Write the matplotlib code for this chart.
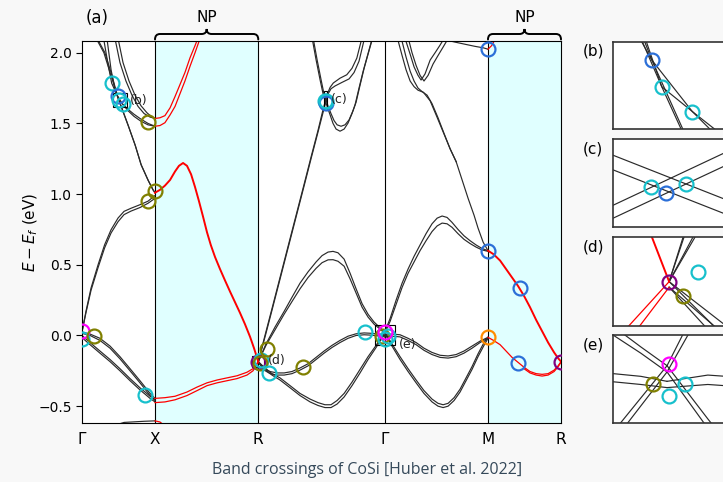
import matplotlib
matplotlib.use("Agg")
import matplotlib.pyplot as plt
from matplotlib.path import Path
from matplotlib.patches import PathPatch, Rectangle

plt.rcParams['font.family'] = ['DejaVu Sans']
plt.rcParams['mathtext.fontset'] = 'dejavusans'

# ---------------- data ----------------
hs_k = [0.0, 0.5, 1.2071, 2.0731, 2.7802, 3.2802]
hs_labels = ["Γ", "X", "R", "Γ", "M", "R"]
np_spans = [(0.5, 1.2071), (2.7802, 3.2802)]
e_ticks = [-0.5, 0.0, 0.5, 1.0, 1.5, 2.0]
e_range = (-0.617, 2.083)

# Γ–X bands (black)
bands_GX = [
    ([0.0, 0.055, 0.123, 0.192, 0.260, 0.329, 0.397, 0.432, 0.466, 0.5],
     [0.025, 0.01, -0.02, -0.075, -0.15, -0.235, -0.32, -0.365, -0.41, -0.445]),
    ([0.0, 0.055, 0.123, 0.192, 0.260, 0.329, 0.397, 0.432, 0.466, 0.5],
     [0.015, 0.0, -0.035, -0.09, -0.165, -0.25, -0.335, -0.38, -0.425, -0.46]),
    ([0.0, 0.055, 0.123, 0.192, 0.260, 0.329, 0.397, 0.432, 0.466, 0.5],
     [0.0, -0.05, -0.11, -0.17, -0.235, -0.305, -0.37, -0.40, -0.43, -0.455]),
    ([0.0, 0.055, 0.123, 0.192, 0.260, 0.329, 0.397, 0.432, 0.466, 0.5],
     [-0.015, -0.065, -0.125, -0.185, -0.25, -0.32, -0.385, -0.415, -0.445, -0.47]),
    ([0.0, 0.027, 0.062, 0.110, 0.155, 0.199, 0.247, 0.288, 0.336, 0.397, 0.452, 0.5],
     [0.025, 0.17, 0.336, 0.50, 0.642, 0.748, 0.831, 0.878, 0.90, 0.925, 0.95, 0.99]),
    ([0.0, 0.027, 0.062, 0.110, 0.155, 0.199, 0.247, 0.288, 0.336, 0.397, 0.452, 0.5],
     [0.025, 0.16, 0.32, 0.48, 0.62, 0.725, 0.805, 0.855, 0.88, 0.905, 0.935, 0.97]),
    ([0.082, 0.150, 0.192, 0.2433, 0.315, 0.363, 0.404, 0.452, 0.486, 0.5],
     [2.13, 2.00, 1.86, 1.693, 1.49, 1.35, 1.21, 1.10, 1.03, 1.01]),
    ([0.089, 0.157, 0.199, 0.2518, 0.318, 0.366, 0.406, 0.454, 0.487, 0.5],
     [2.13, 2.00, 1.86, 1.664, 1.48, 1.34, 1.205, 1.095, 1.03, 1.01]),
    ([0.148, 0.178, 0.2034, 0.2433, 0.278, 0.315, 0.356, 0.404, 0.452, 0.5],
     [2.10, 1.92, 1.784, 1.693, 1.637, 1.59, 1.55, 1.515, 1.49, 1.48]),
    ([0.171, 0.199, 0.226, 0.2518, 0.278, 0.315, 0.356, 0.404, 0.452, 0.5],
     [2.10, 1.88, 1.74, 1.664, 1.637, 1.60, 1.565, 1.53, 1.50, 1.48]),
    ([0.226, 0.260, 0.301, 0.342, 0.384, 0.425, 0.466, 0.5],
     [2.10, 1.93, 1.80, 1.70, 1.62, 1.57, 1.545, 1.535]),
    ([0.247, 0.281, 0.322, 0.363, 0.404, 0.445, 0.479, 0.5],
     [2.10, 1.93, 1.80, 1.70, 1.625, 1.575, 1.545, 1.535]),
    ([0.178, 0.288, 0.425, 0.5],
     [-0.65, -0.615, -0.607, -0.604]),
]

# R–Γ bands (black)
k_hump = [1.2071, 1.260, 1.322, 1.384, 1.438, 1.493, 1.548, 1.603, 1.644, 1.685,
          1.719, 1.753, 1.795, 1.836, 1.877, 1.918, 1.959, 2.000, 2.041, 2.0731]
k_flat = [1.2071, 1.247, 1.288, 1.336, 1.384, 1.438, 1.493, 1.548, 1.603, 1.658,
          1.712, 1.767, 1.822, 1.877, 1.932, 1.986, 2.041, 2.0731]
k_vee = [1.2071, 1.253, 1.301, 1.356, 1.425, 1.493, 1.562, 1.616, 1.664, 1.705,
         1.747, 1.795, 1.849, 1.904, 1.959, 2.014, 2.0731]
bands_RG = [
    ([1.2071, 1.253, 1.301, 1.356, 1.411, 1.466, 1.521, 1.568, 1.616, 1.652, 1.6667,
      1.681, 1.699, 1.721, 1.767, 1.813, 1.849, 1.882, 1.916],
     [-0.185, 0.0, 0.19, 0.41, 0.63, 0.85, 1.07, 1.26, 1.45, 1.6036, 1.658,
      1.711, 1.755, 1.786, 1.82, 1.844, 1.89, 1.962, 2.10]),
    ([1.2071, 1.256, 1.304, 1.359, 1.414, 1.469, 1.524, 1.571, 1.619, 1.657, 1.6689,
      1.6727, 1.686, 1.705, 1.733, 1.780, 1.829, 1.863, 1.897, 1.934],
     [-0.185, 0.0, 0.19, 0.41, 0.63, 0.85, 1.07, 1.26, 1.45, 1.603, 1.647,
      1.661, 1.71, 1.745, 1.765, 1.79, 1.815, 1.86, 1.94, 2.10]),
    ([1.566, 1.580, 1.603, 1.630, 1.652, 1.6667, 1.681, 1.699, 1.719, 1.740, 1.767,
      1.795, 1.822, 1.849, 1.870, 1.897, 1.925, 1.955, 1.987],
     [2.13, 2.08, 1.95, 1.81, 1.7036, 1.658, 1.6137, 1.56, 1.50, 1.46, 1.445,
      1.46, 1.503, 1.57, 1.632, 1.75, 1.868, 1.98, 2.10]),
    ([1.573, 1.587, 1.610, 1.637, 1.657, 1.6727, 1.686, 1.705, 1.726, 1.747, 1.774,
      1.801, 1.829, 1.856, 1.877, 1.904, 1.932, 1.959, 1.989],
     [2.13, 2.08, 1.95, 1.81, 1.7097, 1.661, 1.6198, 1.57, 1.52, 1.49, 1.48,
      1.49, 1.525, 1.59, 1.65, 1.77, 1.89, 1.99, 2.10]),
    (k_hump, [-0.185, -0.06, 0.06, 0.17, 0.27, 0.37, 0.45, 0.52, 0.565, 0.59,
              0.595, 0.585, 0.54, 0.44, 0.33, 0.225, 0.15, 0.095, 0.055, 0.025]),
    (k_hump, [-0.185, -0.07, 0.04, 0.15, 0.24, 0.33, 0.41, 0.475, 0.515, 0.535,
              0.536, 0.525, 0.49, 0.40, 0.30, 0.20, 0.13, 0.08, 0.045, 0.015]),
    (k_flat, [-0.185, -0.235, -0.255, -0.265, -0.265, -0.255, -0.23, -0.20, -0.155,
              -0.11, -0.07, -0.035, -0.005, 0.012, 0.018, 0.015, 0.008, 0.0]),
    (k_flat, [-0.19, -0.245, -0.27, -0.28, -0.28, -0.27, -0.245, -0.215, -0.17,
              -0.125, -0.085, -0.05, -0.02, 0.0, 0.005, 0.002, -0.005, -0.01]),
    (k_vee, [-0.185, -0.23, -0.27, -0.30, -0.355, -0.41, -0.45, -0.475, -0.49,
             -0.49, -0.46, -0.41, -0.33, -0.24, -0.15, -0.07, 0.025]),
    (k_vee, [-0.19, -0.24, -0.28, -0.315, -0.37, -0.425, -0.47, -0.495, -0.51,
             -0.51, -0.485, -0.435, -0.355, -0.265, -0.17, -0.085, 0.015]),
]

# Γ–M bands (black)
k_gv = [2.0731, 2.123, 2.178, 2.233, 2.288, 2.342, 2.397, 2.438, 2.473, 2.507,
        2.548, 2.589, 2.630, 2.671, 2.712, 2.753, 2.7802]
k_gd = [2.0731, 2.123, 2.178, 2.233, 2.288, 2.342, 2.397, 2.452, 2.507, 2.562,
        2.616, 2.671, 2.726, 2.7802]
k_gh = [2.0731, 2.110, 2.151, 2.192, 2.233, 2.274, 2.315, 2.356, 2.397, 2.432,
        2.466, 2.500, 2.534, 2.575, 2.616, 2.658, 2.699, 2.740, 2.7802]
bands_GM = [
    (k_gv, [0.025, -0.06, -0.15, -0.235, -0.315, -0.39, -0.45, -0.48, -0.49, -0.48,
            -0.44, -0.38, -0.30, -0.22, -0.13, -0.05, -0.013]),
    (k_gv, [0.015, -0.075, -0.17, -0.255, -0.335, -0.41, -0.47, -0.50, -0.51, -0.50,
            -0.46, -0.40, -0.32, -0.24, -0.15, -0.07, -0.02]),
    (k_gd, [0.0, 0.01, 0.005, -0.02, -0.05, -0.09, -0.12, -0.14, -0.145, -0.135,
            -0.11, -0.075, -0.04, -0.013]),
    (k_gd, [-0.01, -0.005, -0.01, -0.035, -0.065, -0.105, -0.135, -0.155, -0.16,
            -0.15, -0.125, -0.09, -0.05, -0.018]),
    (k_gh, [0.025, 0.12, 0.25, 0.37, 0.47, 0.56, 0.64, 0.72, 0.79, 0.83, 0.845,
            0.835, 0.80, 0.75, 0.705, 0.67, 0.64, 0.615, 0.60]),
    (k_gh, [0.015, 0.10, 0.22, 0.34, 0.44, 0.52, 0.60, 0.67, 0.735, 0.775, 0.795,
            0.79, 0.765, 0.72, 0.68, 0.65, 0.625, 0.605, 0.595]),
    ([2.152, 2.166, 2.192, 2.219, 2.247, 2.274, 2.301, 2.338, 2.384, 2.429, 2.473,
      2.521, 2.562, 2.603, 2.644, 2.685, 2.712, 2.747, 2.7802],
     [2.13, 2.08, 1.98, 1.88, 1.80, 1.76, 1.735, 1.72, 1.66, 1.55, 1.44,
      1.32, 1.23, 1.10, 0.97, 0.85, 0.76, 0.66, 0.60]),
    ([2.178, 2.192, 2.219, 2.247, 2.274, 2.301, 2.329, 2.363, 2.397, 2.438, 2.479,
      2.521, 2.562],
     [2.13, 2.08, 1.97, 1.87, 1.80, 1.75, 1.725, 1.70, 1.64, 1.54, 1.43, 1.32, 1.23]),
    ([2.212, 2.219, 2.247, 2.274, 2.301, 2.322, 2.349, 2.384, 2.418, 2.452, 2.479],
     [2.11, 2.08, 1.99, 1.90, 1.84, 1.807, 1.85, 1.948, 2.00, 2.054, 2.10]),
    ([2.233, 2.240, 2.260, 2.288, 2.315, 2.342, 2.370, 2.404, 2.438, 2.473, 2.507],
     [2.11, 2.08, 2.00, 1.91, 1.84, 1.80, 1.84, 1.92, 1.98, 2.04, 2.10]),
    ([2.493, 2.555, 2.623, 2.692, 2.747, 2.7802],
     [2.09, 2.075, 2.06, 2.045, 2.035, 2.025]),
]

# nodal-plane (red) bands, X–R and M–R
red_thin = [
    ([0.5, 0.534, 0.568, 0.603, 0.637, 0.671, 0.705, 0.740, 0.774, 0.808],
     [1.535, 1.54, 1.555, 1.61, 1.69, 1.775, 1.86, 1.965, 2.05, 2.14]),
    ([0.5, 0.534, 0.568, 0.603, 0.637, 0.671, 0.705, 0.740, 0.774, 0.808],
     [1.48, 1.485, 1.505, 1.56, 1.62, 1.71, 1.80, 1.905, 2.0, 2.10]),
    ([0.5, 0.568, 0.637, 0.719, 0.788, 0.856, 0.925, 0.993, 1.062, 1.130, 1.171, 1.2071],
     [-0.445, -0.44, -0.43, -0.40, -0.365, -0.335, -0.315, -0.30, -0.285, -0.26, -0.235, -0.185]),
    ([0.5, 0.568, 0.637, 0.719, 0.788, 0.856, 0.925, 0.993, 1.062, 1.130, 1.171, 1.2071],
     [-0.475, -0.47, -0.455, -0.425, -0.39, -0.355, -0.335, -0.32, -0.305, -0.28, -0.25, -0.19]),
    ([0.5, 0.534, 0.568], [-0.604, -0.612, -0.64]),
    ([2.7802, 2.818, 2.863, 2.904, 2.945, 2.986, 3.027, 3.068, 3.110, 3.151, 3.192,
      3.233, 3.260, 3.2802],
     [-0.013, -0.035, -0.065, -0.11, -0.155, -0.19, -0.225, -0.255, -0.27, -0.275,
      -0.27, -0.245, -0.215, -0.185]),
    ([3.027, 3.068, 3.110, 3.151, 3.192, 3.233, 3.260, 3.2802],
     [-0.235, -0.265, -0.28, -0.287, -0.28, -0.255, -0.222, -0.19]),
    ([2.7802, 2.805, 2.832], [2.025, 2.05, 2.10]),
]
red_thick = [
    ([0.5, 0.534, 0.568, 0.603, 0.637, 0.664, 0.692, 0.719, 0.747, 0.774, 0.801, 0.829,
      0.856, 0.882, 0.911, 0.945, 0.979, 1.014, 1.048, 1.082, 1.116, 1.151, 1.178, 1.2071],
     [1.01, 1.03, 1.06, 1.10, 1.16, 1.20, 1.22, 1.20, 1.14, 1.05, 0.95, 0.84,
      0.73, 0.64, 0.555, 0.47, 0.39, 0.31, 0.235, 0.16, 0.08, -0.01, -0.09, -0.185]),
    ([2.7802, 2.818, 2.863, 2.904, 2.945, 2.986, 3.027, 3.068, 3.110, 3.151, 3.192,
      3.233, 3.260, 3.2802],
     [0.60, 0.575, 0.53, 0.47, 0.41, 0.35, 0.28, 0.20, 0.11, 0.03, -0.05, -0.12,
      -0.16, -0.185]),
]

# band crossings (open circles)
CY, BL, OL, MG, PU, OR = '#17c0cc', '#2b6fd8', '#808000', '#ff00ff', '#800080', '#ff8c00'
circ_k = [0.2034, 0.2433, 0.2518, 0.278, 0.4541, 0.5, 0.45, 0.0, 0.0, 0.082, 0.4315,
          1.2071, 1.2275, 1.217, 1.265, 1.283, 1.5116, 1.938,
          1.6662, 1.6689, 1.6727,
          2.056, 2.0755, 2.095, 2.0755,
          2.7802, 2.7802, 2.7802, 3.0, 2.988, 3.2802]
circ_E = [1.784, 1.693, 1.664, 1.637, 1.512, 1.024, 0.951, 0.035, -0.025, -0.004, -0.42,
          -0.185, -0.176, -0.198, -0.098, -0.263, -0.22, 0.022,
          1.657, 1.647, 1.661,
          -0.005, -0.023, -0.005, 0.028,
          0.60, -0.013, 2.024, 0.334, -0.192, -0.185]
circ_c = [CY, BL, CY, CY, OL, OL, OL, MG, CY, OL, CY,
          PU, CY, OL, OL, CY, OL, CY,
          CY, BL, CY,
          OL, CY, CY, MG,
          BL, OR, BL, BL, BL, PU]

# zoom windows (insets)
inset_names = ['(b)', '(c)', '(d)', '(e)']
inset_xlim = [(0.210, 0.306), (1.659, 1.680), (1.167, 1.247), (2.007, 2.144)]
inset_ylim = [(1.618, 1.713), (1.597, 1.727), (-0.225, -0.145), (-0.067, 0.074)]
inset_label_E = [1.665, 1.667, -0.18, -0.067]

# ---------------- figure ----------------
FW, FH = 723, 482
fig = plt.figure(figsize=(FW / 100, FH / 100), dpi=100, facecolor='#f8f8f8')


def fx(px):
    return px / FW


def fy(py):
    return 1 - py / FH


AX_L, AX_R, AX_T, AX_B = 82, 561, 41, 422.7
ax = fig.add_axes([fx(AX_L), fy(AX_B), fx(AX_R) - fx(AX_L), fy(AX_T) - fy(AX_B)])
ax.set_facecolor('white')


def draw_bands(a):
    for k, e in bands_GX + bands_RG + bands_GM:
        a.plot(k, e, color='#2a2a2a', lw=0.85, zorder=2)
    for k, e in red_thin:
        a.plot(k, e, color='#ff0000', lw=0.9, zorder=2)
    for k, e in red_thick:
        a.plot(k, e, color='#ff0000', lw=1.4, zorder=2)


def draw_circles(a, ms):
    for k, e, c in zip(circ_k, circ_E, circ_c):
        a.plot([k], [e], marker='o', ms=ms, mfc='none', mec=c, mew=1.6,
               ls='none', zorder=6)


for s0, s1 in np_spans:
    ax.axvspan(s0, s1, color='#e0ffff', lw=0, zorder=0)
for k in hs_k[1:-1]:
    ax.axvline(k, color='black', lw=0.8, zorder=1)

draw_bands(ax)
draw_circles(ax, 10)

ax.set_xlim(hs_k[0], hs_k[-1])
ax.set_ylim(*e_range)
ax.set_xticks(hs_k)
ax.set_xticklabels(hs_labels)
ax.tick_params(axis='x', length=0, pad=7, labelsize=11)
ax.set_yticks(e_ticks)
ax.set_yticklabels(['\u22120.5', '0.0', '0.5', '1.0', '1.5', '2.0'])
ax.tick_params(axis='y', labelsize=10, length=4)
ax.set_ylabel(r'$E - E_f$ (eV)', fontsize=11)
ax.yaxis.set_label_coords(-0.088, 0.5)

# curly braces marking the nodal planes
ph = AX_B - AX_T
pw = AX_R - AX_L
for s0, s1 in np_spans:
    xa = (s0 - hs_k[0]) / (hs_k[-1] - hs_k[0])
    xb = (s1 - hs_k[0]) / (hs_k[-1] - hs_k[0])
    xm = 0.5 * (xa + xb)
    rx = 5 / pw
    y_end, y_h, y_tip = 1 + 1.5 / ph, 1 + 7 / ph, 1 + 12 / ph
    verts = [(xa, y_end), (xa, y_h), (xa + rx, y_h), (xm - rx, y_h), (xm, y_h),
             (xm, y_tip), (xm, y_h), (xm + rx, y_h), (xb - rx, y_h), (xb, y_h),
             (xb, y_end)]
    codes = [Path.MOVETO, Path.CURVE3, Path.CURVE3, Path.LINETO, Path.CURVE3,
             Path.CURVE3, Path.CURVE3, Path.CURVE3, Path.LINETO, Path.CURVE3,
             Path.CURVE3]
    ax.add_patch(PathPatch(Path(verts, codes), transform=ax.transAxes, fill=False,
                           lw=1.4, ec='black', clip_on=False, capstyle='round'))
    ax.text(xm, 1 + 23 / ph, 'NP', transform=ax.transAxes, ha='center',
            va='center', fontsize=11)

fig.text(fx(96.7), fy(18.3), '(a)', ha='center', va='center', fontsize=12)

# insets
inset_rows = [(41.7, 129.0), (139.3, 227.3), (237.3, 326.0), (335.0, 423.3)]
IN_L, IN_R = 613, 725
for name, xl, yl, lab_e, (top, bot) in zip(inset_names, inset_xlim, inset_ylim,
                                           inset_label_E, inset_rows):
    a = fig.add_axes([fx(IN_L), fy(bot), fx(IN_R) - fx(IN_L), fy(top) - fy(bot)])
    a.set_facecolor('white')
    draw_bands(a)
    draw_circles(a, 10)
    a.set_xlim(*xl)
    a.set_ylim(*yl)
    a.set_xticks([])
    a.set_yticks([])
    for sp in a.spines.values():
        sp.set_linewidth(1.2)
        sp.set_color('#333333')
    fig.text(fx(593), fy(top + 9.5), name, ha='center', va='center', fontsize=11)
    ax.add_patch(Rectangle((xl[0], yl[0]), xl[1] - xl[0], yl[1] - yl[0],
                           fill=False, ec='black', lw=0.8, zorder=5))
    ax.annotate(name, xy=(xl[1], lab_e), xytext=(2.5, 0), textcoords='offset points',
                ha='left', va='center', fontsize=9, color='#222222', zorder=7)

fig.text(fx(367), fy(470), 'Band crossings of CoSi [Huber et al. 2022]',
         ha='center', va='center', fontsize=11.5, color='#35495a',
         family=['Open Sans', 'DejaVu Sans'])

fig.savefig('out.png', dpi=100, facecolor=fig.get_facecolor())
